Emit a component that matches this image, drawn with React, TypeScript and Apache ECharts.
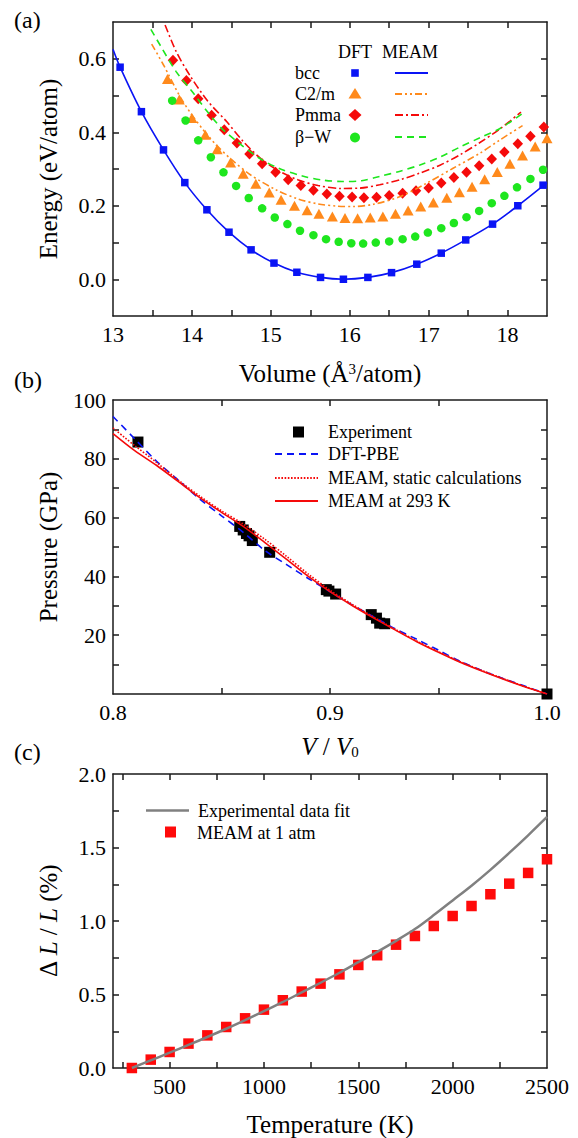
import React, { useEffect, useRef } from "react";
import * as echarts from "echarts";

const FONT = "Liberation Serif, Times New Roman, serif";

// ---------------- Panel (a): energy vs volume ----------------
const bccV = [13.09, 13.36, 13.64, 13.91, 14.19, 14.47, 14.75, 15.04, 15.33, 15.63, 15.92, 16.23, 16.53, 16.85, 17.16, 17.47, 17.81, 18.13, 18.45];
const bccE = [0.577, 0.456, 0.352, 0.263, 0.189, 0.128, 0.080, 0.044, 0.019, 0.005, 0.0, 0.005, 0.018, 0.041, 0.071, 0.107, 0.150, 0.200, 0.256];
const bccMeamV = [13.0, 13.09, 13.36, 13.64, 13.91, 14.19, 14.47, 14.75, 15.04, 15.33, 15.63, 15.92, 16.23, 16.53, 16.85, 17.16, 17.47, 17.81, 18.13, 18.5];
const bccMeamE = [0.626, 0.577, 0.456, 0.352, 0.263, 0.189, 0.128, 0.080, 0.044, 0.019, 0.005, 0.0, 0.005, 0.018, 0.041, 0.071, 0.107, 0.150, 0.200, 0.263];

const c2mV = [13.69, 13.84, 14.0, 14.17, 14.32, 14.49, 14.65, 14.81, 14.98, 15.13, 15.3, 15.46, 15.61, 15.78, 15.94, 16.1, 16.26, 16.42, 16.58, 16.74, 16.9, 17.06, 17.23, 17.39, 17.55, 17.71, 17.87, 18.03, 18.19, 18.35, 18.5];
const c2mE = [0.545, 0.489, 0.439, 0.393, 0.354, 0.318, 0.287, 0.26, 0.236, 0.216, 0.2, 0.188, 0.178, 0.171, 0.167, 0.166, 0.168, 0.171, 0.178, 0.187, 0.198, 0.209, 0.222, 0.237, 0.252, 0.272, 0.292, 0.314, 0.337, 0.361, 0.384];
const c2mMeamV = [13.49, 13.64, 13.85, 14.0, 14.15, 14.31, 14.5, 14.75, 15.07, 15.35, 15.6, 15.84, 16.05, 16.3, 16.64, 16.98, 17.31, 17.65, 17.91, 18.19];
const c2mMeamE = [0.64, 0.583, 0.497, 0.447, 0.405, 0.365, 0.326, 0.283, 0.243, 0.218, 0.205, 0.199, 0.198, 0.204, 0.225, 0.262, 0.302, 0.343, 0.38, 0.418];

const pmmaV = [13.76, 13.93, 14.08, 14.25, 14.41, 14.57, 14.73, 14.89, 15.06, 15.22, 15.38, 15.54, 15.71, 15.87, 16.03, 16.18, 16.34, 16.5, 16.67, 16.84, 17.0, 17.16, 17.32, 17.48, 17.64, 17.8, 17.96, 18.13, 18.29, 18.46];
const pmmaE = [0.596, 0.541, 0.491, 0.446, 0.407, 0.371, 0.341, 0.314, 0.291, 0.271, 0.255, 0.242, 0.232, 0.226, 0.224, 0.222, 0.223, 0.228, 0.234, 0.241, 0.248, 0.262, 0.277, 0.291, 0.309, 0.327, 0.346, 0.369, 0.389, 0.414];
const pmmaMeamV = [13.66, 13.8, 13.97, 14.2, 14.44, 14.65, 14.87, 15.1, 15.35, 15.6, 15.88, 16.13, 16.38, 16.64, 16.89, 17.15, 17.4, 17.65, 17.91, 18.17];
const pmmaMeamE = [0.692, 0.62, 0.556, 0.485, 0.429, 0.375, 0.329, 0.295, 0.27, 0.255, 0.247, 0.248, 0.257, 0.271, 0.289, 0.311, 0.339, 0.372, 0.41, 0.455];

const bwV = [13.75, 13.92, 14.08, 14.24, 14.4, 14.56, 14.72, 14.89, 15.05, 15.21, 15.37, 15.54, 15.7, 15.86, 16.02, 16.17, 16.33, 16.5, 16.67, 16.83, 16.99, 17.16, 17.32, 17.48, 17.64, 17.8, 17.96, 18.12, 18.29, 18.45];
const bwE = [0.486, 0.432, 0.378, 0.332, 0.291, 0.254, 0.221, 0.193, 0.168, 0.15, 0.132, 0.12, 0.109, 0.102, 0.098, 0.097, 0.0997, 0.103, 0.109, 0.116, 0.127, 0.139, 0.153, 0.169, 0.186, 0.207, 0.227, 0.25, 0.273, 0.298];
const bwMeamV = [13.48, 13.6, 13.8, 14.02, 14.2, 14.38, 14.6, 14.85, 15.1, 15.4, 15.65, 15.9, 16.15, 16.38, 16.64, 16.89, 17.15, 17.4, 17.65, 17.91, 18.21];
const bwMeamE = [0.68, 0.636, 0.565, 0.506, 0.455, 0.41, 0.37, 0.33, 0.302, 0.281, 0.27, 0.266, 0.268, 0.28, 0.294, 0.311, 0.333, 0.36, 0.385, 0.411, 0.454];

const aXTicks = [13.5, 14, 14.5, 15, 15.5, 16, 16.5, 17, 17.5, 18];
const aXLabels = [13, 14, 15, 16, 17, 18];
const aYTicks = [0, 0.1, 0.2, 0.3, 0.4, 0.5, 0.6];
const aYLabels = [0, 0.2, 0.4, 0.6];

// ---------------- Panel (b): pressure vs V/V0 ----------------
const expV = [0.8115, 0.8584, 0.86, 0.8615, 0.8627, 0.8642, 0.8722, 0.8983, 0.8995, 0.9026, 0.919, 0.9214, 0.9229, 0.9252, 1.0];
const expP = [85.7, 57.0, 55.8, 54.6, 53.8, 52.2, 48.2, 35.5, 35.0, 34.0, 27.0, 25.8, 24.1, 23.9, 0.0];
const curveV = [0.8, 0.81, 0.82, 0.83, 0.84, 0.85, 0.86, 0.87, 0.88, 0.89, 0.9, 0.91, 0.92, 0.93, 0.94, 0.95, 0.96, 0.97, 0.98, 0.99, 1.0];
const dftP = [94.4, 86.8, 79.2, 72.8, 66.3, 60.6, 55.0, 48.8, 44.0, 39.3, 34.8, 30.4, 26.3, 22.2, 18.6, 14.9, 11.1, 8.0, 5.2, 2.6, 0.0];
const staticP = [90.5, 84.5, 78.8, 72.8, 67.3, 62.3, 57.8, 52.6, 46.8, 40.8, 35.3, 30.6, 26.2, 22.0, 18.0, 14.4, 11.0, 8.0, 5.2, 2.5, 0.0];
const t293P = [88.6, 82.8, 77.8, 72.3, 66.8, 61.8, 57.0, 51.5, 45.8, 40.0, 34.8, 30.2, 25.9, 21.8, 17.8, 14.2, 10.8, 7.8, 5.0, 2.4, 0.0];

const bXTicks = [0.85, 0.9, 0.95];
const bXLabels = [0.8, 0.9, 1.0];
const bYTicks = [10, 20, 30, 40, 50, 60, 70, 80, 90];
const bYLabels = [20, 40, 60, 80, 100];

// ---------------- Panel (c): thermal expansion ----------------
const tempK = [300, 400, 500, 600, 700, 800, 900, 1000, 1100, 1200, 1300, 1400, 1500, 1600, 1700, 1800, 1900, 2000, 2100, 2200, 2300, 2400, 2500];
const meamDL = [0.0, 0.057, 0.109, 0.166, 0.222, 0.279, 0.338, 0.397, 0.461, 0.52, 0.574, 0.637, 0.701, 0.767, 0.839, 0.898, 0.966, 1.034, 1.102, 1.182, 1.254, 1.327, 1.42];
const fitDL = [0.0, 0.052, 0.104, 0.157, 0.211, 0.267, 0.326, 0.387, 0.449, 0.514, 0.58, 0.648, 0.72, 0.79, 0.865, 0.945, 1.04, 1.14, 1.24, 1.348, 1.463, 1.583, 1.708];

const cXTicks = [250, 500, 750, 1000, 1250, 1500, 1750, 2000, 2250];
const cXLabels = [500, 1000, 1500, 2000, 2500];
const cYTicks = [0.25, 0.5, 0.75, 1.0, 1.25, 1.5, 1.75];
const cYLabels = [0, 0.5, 1.0, 1.5, 2.0];

// ---------------- colours ----------------
const BLUE = "#0a14f5";
const ORANGE = "#ff8a1c";
const RED = "#f50a0a";
const GREEN = "#1ee61e";
const AX = "#1a1a1a";

const zip = (xs: number[], ys: number[]) => xs.map((x, i) => [x, ys[i]]);

function axis(
  gridIndex: number,
  position: string,
  min: number,
  max: number,
  ticks: number[],
  labels: number[] | null,
  fmt: (v: number) => string,
  extra: any = {}
) {
  return {
    type: "value",
    gridIndex,
    position,
    min,
    max,
    axisLine: { show: true, onZero: false, lineStyle: { color: AX, width: 1.5 } },
    axisTick: { show: true, inside: true, length: 6, customValues: ticks, lineStyle: { color: AX, width: 1.5 } },
    axisLabel: labels
      ? { show: true, customValues: labels, formatter: fmt, fontFamily: FONT, fontSize: 22, color: "#000", margin: 7 }
      : { show: false },
    splitLine: { show: false },
    ...extra,
  };
}

const nameStyle = (rich: any = {}) => ({
  fontFamily: FONT,
  fontSize: 25,
  color: "#000",
  rich,
});

function buildOption(): any {
  const f1 = (v: number) => v.toFixed(1);
  const f0 = (v: number) => String(Math.round(v));

  const xAxis = [
    axis(0, "bottom", 13, 18.5, aXTicks, aXLabels, f0, {
      name: "Volume (Å{sup|3}/atom)",
      nameLocation: "middle",
      nameGap: 45,
      nameTextStyle: nameStyle({
        sup: { fontFamily: FONT, fontSize: 15, verticalAlign: "top", lineHeight: 14, color: "#000" },
      }),
    }),
    axis(0, "top", 13, 18.5, aXTicks, null, f0),
    axis(1, "bottom", 0.8, 1.0, bXTicks, bXLabels, f1, {
      name: "{i|V} / {i|V}{sub|0}",
      nameLocation: "middle",
      nameGap: 40,
      nameTextStyle: nameStyle({
        i: { fontFamily: FONT, fontSize: 25, fontStyle: "italic", color: "#000" },
        sub: { fontFamily: FONT, fontSize: 15, verticalAlign: "bottom", lineHeight: 12, color: "#000" },
      }),
    }),
    axis(1, "top", 0.8, 1.0, bXTicks, null, f1),
    axis(2, "bottom", 200, 2500, cXTicks, cXLabels, f0, {
      name: "Temperature (K)",
      nameLocation: "middle",
      nameGap: 44,
      nameTextStyle: nameStyle(),
    }),
    axis(2, "top", 200, 2500, cXTicks, null, f0),
  ];

  const yAxis = [
    axis(0, "left", -0.1, 0.7, aYTicks, aYLabels, f1, {
      name: "Energy (eV/atom)",
      nameLocation: "middle",
      nameGap: 52,
      nameTextStyle: nameStyle(),
    }),
    axis(0, "right", -0.1, 0.7, aYTicks, null, f1),
    axis(1, "left", 0, 100, bYTicks, bYLabels, f0, {
      name: "Pressure (GPa)",
      nameLocation: "middle",
      nameGap: 52,
      nameTextStyle: nameStyle(),
    }),
    axis(1, "right", 0, 100, bYTicks, null, f0),
    axis(2, "left", 0, 2.0, cYTicks, cYLabels, f1, {
      name: "Δ {i|L} / {i|L} (%)",
      nameLocation: "middle",
      nameGap: 52,
      nameTextStyle: nameStyle({
        i: { fontFamily: FONT, fontSize: 25, fontStyle: "italic", color: "#000" },
      }),
    }),
    axis(2, "right", 0, 2.0, cYTicks, null, f1),
  ];

  const line = (xi: number, data: number[][], color: string, type: any, width = 1.6, smooth: any = 0.3) => ({
    type: "line",
    xAxisIndex: xi,
    yAxisIndex: xi,
    data,
    smooth,
    symbol: "none",
    showSymbol: false,
    clip: true,
    lineStyle: { color, type, width },
    z: 3,
  });
  const scatter = (xi: number, data: number[][], color: string, symbol: string, size: any) => ({
    type: "scatter",
    xAxisIndex: xi,
    yAxisIndex: xi,
    data,
    symbol,
    symbolSize: size,
    itemStyle: { color, opacity: 1 },
    clip: false,
    z: 2,
  });

  const series = [
    // panel a
    scatter(0, zip(bccV, bccE), BLUE, "rect", 7.5),
    scatter(0, zip(c2mV, c2mE), ORANGE, "triangle", [11, 10]),
    scatter(0, zip(pmmaV, pmmaE), RED, "diamond", [10.5, 11]),
    scatter(0, zip(bwV, bwE), GREEN, "circle", 8.5),
    line(0, zip(bccMeamV, bccMeamE), BLUE, "solid", 1.6),
    line(0, zip(c2mMeamV, c2mMeamE), ORANGE, [7, 3, 2, 3, 2, 3], 1.6),
    line(0, zip(pmmaMeamV, pmmaMeamE), RED, [8, 3, 2, 3], 1.6),
    line(0, zip(bwMeamV, bwMeamE), GREEN, [7, 5], 1.6),
    // panel b
    line(2, zip(curveV, dftP), BLUE, [7, 5], 1.6),
    line(2, zip(curveV, staticP), RED, [1.6, 1.6], 1.6),
    line(2, zip(curveV, t293P), RED, "solid", 1.6),
    scatter(2, zip(expV, expP), "#000", "rect", 11),
    // panel c
    line(4, zip(tempK, fitDL), "#808080", "solid", 2.5),
    scatter(4, zip(tempK, meamDL), "#ff0a0a", "rect", 10.5),
  ];

  const txt = (x: number, y: number, text: string, size = 18, extra: any = {}) => ({
    type: "text",
    x,
    y,
    style: { text, fontFamily: FONT, fontSize: size, fill: "#000", textVerticalAlign: "middle", ...extra },
    z: 10,
  });
  const seg = (x1: number, x2: number, y: number, color: string, dash: any, w = 1.8) => ({
    type: "line",
    shape: { x1, y1: y, x2, y2: y },
    style: { stroke: color, lineWidth: w, lineDash: dash },
    z: 10,
  });

  const graphic = [
    txt(14, 20, "(a)", 24),
    txt(14, 380, "(b)", 24),
    txt(14, 752, "(c)", 24),
    // legend a
    txt(338, 52, "DFT", 18),
    txt(382, 52, "MEAM", 18),
    txt(295, 73, "bcc", 18),
    txt(295, 94, "C2/m", 18),
    txt(295, 115, "Pmma", 18),
    txt(295, 137, "β−W", 18),
    { type: "rect", shape: { x: 351.2, y: 69.2, width: 7.6, height: 7.6 }, style: { fill: BLUE }, z: 10 },
    { type: "polygon", shape: { points: [[355, 88], [348.5, 98.5], [361.5, 98.5]] }, style: { fill: ORANGE }, z: 10 },
    { type: "polygon", shape: { points: [[355, 109], [361.5, 115], [355, 121], [348.5, 115]] }, style: { fill: RED }, z: 10 },
    { type: "circle", shape: { cx: 355, cy: 137.5, r: 5 }, style: { fill: GREEN }, z: 10 },
    seg(395, 428, 73, BLUE, null),
    seg(395, 428, 94, ORANGE, [7, 3, 2, 3, 2, 3]),
    seg(395, 428, 115, RED, [8, 3, 2, 3]),
    seg(395, 428, 137, GREEN, [7, 5]),
    // legend b
    { type: "rect", shape: { x: 293, y: 426.5, width: 11, height: 11 }, style: { fill: "#000" }, z: 10 },
    seg(275, 318, 454, BLUE, [7, 5]),
    seg(275, 318, 478, RED, [1.6, 1.6]),
    seg(275, 318, 501, RED, null),
    txt(328, 432, "Experiment", 18),
    txt(328, 454, "DFT-PBE", 18),
    txt(328, 478, "MEAM, static calculations", 18),
    txt(328, 501, "MEAM at 293 K", 18),
    // legend c
    seg(146, 189, 810.5, "#808080", null, 2.5),
    { type: "rect", shape: { x: 165, y: 826.5, width: 11, height: 11 }, style: { fill: "#ff0a0a" }, z: 10 },
    txt(198, 810.5, "Experimental data fit", 18),
    txt(197, 833, "MEAM at 1 atm", 18),
  ];

  return {
    animation: false,
    backgroundColor: "#ffffff",
    textStyle: { fontFamily: FONT },
    grid: [
      { left: 113, top: 22, width: 434, height: 294, containLabel: false },
      { left: 113, top: 400, width: 434, height: 294, containLabel: false },
      { left: 113, top: 774, width: 434, height: 294, containLabel: false },
    ],
    xAxis,
    yAxis,
    series,
    graphic,
  };
}

export default function App() {
  const ref = useRef<HTMLDivElement>(null);
  useEffect(() => {
    if (!ref.current) return;
    const chart = echarts.init(ref.current, null, { renderer: "svg" });
    chart.setOption(buildOption());
    return () => chart.dispose();
  }, []);
  return (
    <div
      ref={ref}
      style={{ position: "fixed", left: 0, top: 0, width: 578, height: 1138, background: "#fff" }}
    />
  );
}
